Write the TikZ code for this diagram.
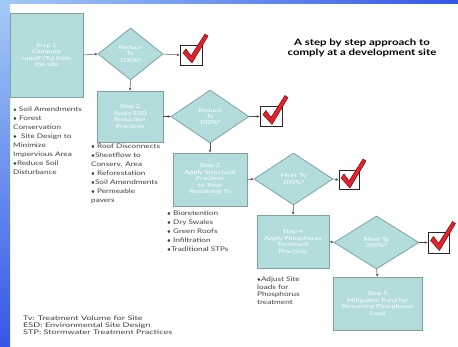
\documentclass[tikz,border=0pt]{standalone}
\usepackage{fontspec}
\setmainfont{Lato}
\newfontfamily\widefont[FakeStretch=1.3]{Lato}
\newfontfamily\widerfont[FakeStretch=1.45]{Lato}
\usetikzlibrary{shapes.geometric,arrows.meta}
\definecolor{boxfill}{HTML}{B3DCDC}
\definecolor{boxline}{HTML}{7FA3A3}
\definecolor{chkred}{HTML}{E8202A}
\definecolor{chkdark}{HTML}{6A0A10}
\definecolor{bluelight}{HTML}{A4CAF6}
\definecolor{bluedark}{HTML}{3556E6}
\tikzset{
  stepbox/.style={draw=boxline, fill=boxfill, line width=0.8pt, text=white, align=center,
    font=\widefont\fontsize{5.5}{6.5}\selectfont, inner sep=1pt},
  decision/.style={diamond, draw=boxline, fill=boxfill, line width=0.8pt, text=white, align=center,
    font=\widefont\fontsize{5.5}{6.5}\selectfont, inner sep=0pt},
  cbox/.style={draw=black!85, fill=white, line width=0.8pt, inner sep=0pt},
  arr/.style={-{Stealth[length=3pt,width=2.6pt]}, draw=black!70, line width=0.5pt},
  lst/.style={anchor=north west, align=left, font=\widefont\fontsize{6.3}{9}\selectfont, text=black!75, inner sep=0pt},
  chk/.style={fill=chkred, draw=chkdark, line width=0.5pt, line join=round}
}
\newcommand\drawchk[1]{%
  \draw[chk, shift={(#1.center)}] (-8,-2) -- (-5,-6) -- (0,1) -- (14,-21) -- (17,-19) -- (1,8) -- cycle;}
\begin{document}
\begin{tikzpicture}[x=1pt,y=-1pt]
\useasboundingbox (0,0) rectangle (458,347);
\fill[white] (0,0) rectangle (458,347);
\shade[top color=bluelight, bottom color=bluedark] (0,0) rectangle (10,347);
\shade[left color=bluelight, right color=bluedark] (0,0) rectangle (458,4);

% title
\node[font=\widefont\bfseries\fontsize{8.8}{10}\selectfont, align=center] (title) at (362,48)
  {A step by step approach to\\comply at a development site};

% steps
\node[stepbox, minimum width=73pt, minimum height=84pt] (s1) at (46.5,55)
  {Step 1\\Compute\\runoff (Tv) from\\the site};
\node[decision, minimum width=65pt, minimum height=52pt] (d1) at (130.5,54)
  {Reduce\\Tv\\100\%?};
\node[cbox, minimum width=22pt, minimum height=20pt] (c1) at (191,55) {};

\node[stepbox, minimum width=66pt, minimum height=51pt] (s2) at (130,116.5)
  {Step 2\\Apply ESD\\Reduction\\Practices};
\node[decision, minimum width=78pt, minimum height=53pt] (d2) at (210,116.5)
  {Reduce\\Tv\\100\%?};
\node[cbox, minimum width=22pt, minimum height=20pt] (c2) at (271,116.5) {};

\node[stepbox, minimum width=74pt, minimum height=53pt] (s3) at (210,179.5)
  {Step 3\\Apply Structural\\Practices\\to Treat\\Remaining Tv};
\node[decision, minimum width=79pt, minimum height=52pt] (d3) at (293.5,179)
  {Meet Tv\\100\%?};
\node[cbox, minimum width=20pt, minimum height=19pt] (c3) at (349,180) {};

\node[stepbox, minimum width=72pt, minimum height=53pt] (s4) at (293,241.5)
  {Step 4\\Apply Phosphorus\\Treatment\\Practices};
\node[decision, minimum width=85pt, minimum height=53pt] (d4) at (376.5,242.5)
  {Meet Tp\\100\%?};
\node[cbox, minimum width=21pt, minimum height=21pt] (c4) at (438.5,242.5) {};

\node[stepbox, minimum width=89pt, minimum height=53pt] (s5) at (377.5,303.5)
  {Step 5\\Mitigation Fund for\\Remaining Phosphorus\\Load};

% connectors
\draw[arr] (s1.east) -- (d1.west);
\draw[arr] (d1.east) -- (c1.west);
\draw[arr] (d1.south) -- (s2.north);
\draw[arr] (s2.east) -- (d2.west);
\draw[arr] (d2.east) -- (c2.west);
\draw[arr] (d2.south) -- (s3.north);
\draw[arr] (s3.east) -- (d3.west);
\draw[arr] (d3.east) -- (c3.west);
\draw[arr] (d3.south) -- (s4.north);
\draw[arr] (s4.east) -- (d4.west);
\draw[arr] (d4.east) -- (c4.west);
\draw[arr] (d4.south) -- (s5.north);

% check marks
\drawchk{c1}
\drawchk{c2}
\drawchk{c3}
\drawchk{c4}

% lists
\node[lst] (l1) at (13,107)
  {{\tiny$\bullet$} Soil Amendments\\$\bullet$ Forest\\Conservation\\$\bullet$\ \ Site Design to\\Minimize\\Impervious Area\\$\bullet$Reduce Soil\\Disturbance};
\node[lst] (l2) at (91,143.5)
  {$\bullet$ Roof Disconnects\\$\bullet$Sheetflow to\\Conserv. Area\\$\bullet$ Reforestation\\$\bullet$Soil Amendments\\$\bullet$ Permeable\\pavers};
\node[lst] (l3) at (167,211)
  {$\bullet$ Bioretention\\$\bullet$ Dry Swales\\$\bullet$ Green Roofs\\$\bullet$ Infiltration\\$\bullet$Traditional STPs};
\node[lst, font=\widefont\fontsize{6.3}{7.5}\selectfont] (l4) at (257,277)
  {$\bullet$Adjust Site\\loads for\\Phosphorus\\treatment};
\node[lst, font=\widerfont\fontsize{6.3}{7}\selectfont] (legend) at (23,316)
  {Tv: Treatment Volume for Site\\ESD: Environmental Site Design\\STP: Stormwater Treatment Practices};
\end{tikzpicture}
\end{document}
